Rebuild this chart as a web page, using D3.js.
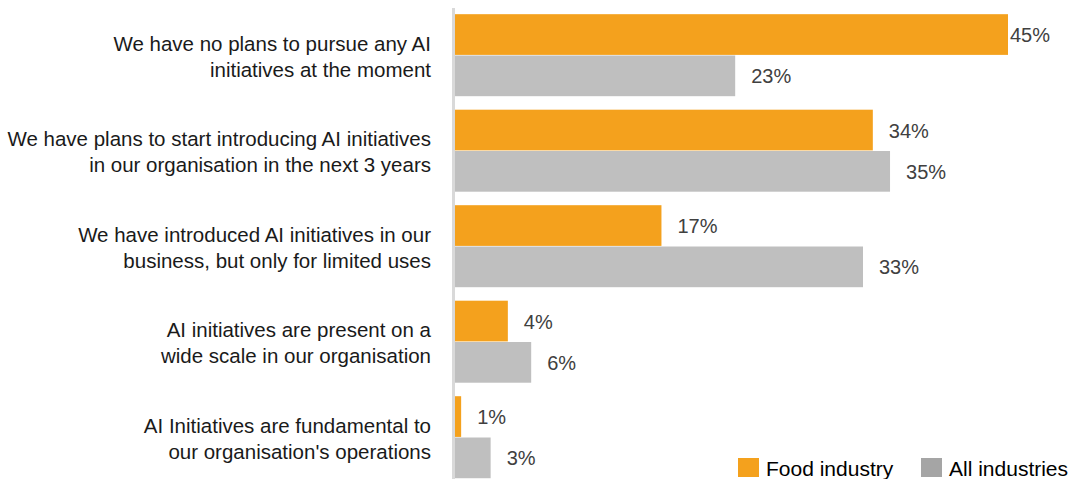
<!DOCTYPE html>
<html><head><meta charset="utf-8">
<script src="https://cdn.jsdelivr.net/npm/d3@7"></script>
<style>body{margin:0;background:#fff}svg{display:block;font-family:"Liberation Sans",Arial,sans-serif}</style>
</head><body>
<svg id="c" width="1086" height="479"></svg>
<script>
const categories = [
  ["We have no plans to pursue any AI", "initiatives at the moment"],
  ["We have plans to start introducing AI initiatives", "in our organisation in the next 3 years"],
  ["We have introduced AI initiatives in our", "business, but only for limited uses"],
  ["AI initiatives are present on a", "wide scale in our organisation"],
  ["AI Initiatives are fundamental to", "our organisation's operations"]
];
const seriesNames = ["Food industry", "All industries"];
const food = [45, 34, 16.8, 4.3, 0.5];
const all = [22.8, 35.4, 33.2, 6.2, 2.9];
const colors = ["#F4A11D", "#BFBFBF"];
const legendColors = ["#F4A11D", "#A5A5A5"];

const svg = d3.select("#c");
const x = d3.scaleLinear().domain([0, 45]).range([455, 1008]);
const y = d3.scaleBand().domain(d3.range(categories.length)).range([7.5, 485.5]).paddingInner(0.135).paddingOuter(0.07);
const sub = d3.scaleBand().domain([0, 1]).range([0, y.bandwidth()]);

// axis line
svg.append("line").attr("x1", 453.5).attr("x2", 453.5).attr("y1", 8).attr("y2", 479)
  .attr("stroke", "#D9D9D9").attr("stroke-width", 3);

const data = [];
categories.forEach((c, i) => {
  data.push({i, s: 0, v: food[i]});
  data.push({i, s: 1, v: all[i]});
});

svg.selectAll("rect.bar").data(data).join("rect").attr("class", "bar")
  .attr("x", x(0)).attr("y", d => y(d.i) + sub(d.s))
  .attr("width", d => x(d.v) - x(0)).attr("height", sub.bandwidth() - 0.6)
  .attr("fill", d => colors[d.s]);

svg.selectAll("text.val").data(data).join("text").attr("class", "val")
  .attr("x", d => Math.min(x(d.v) + 16, 1010)).attr("y", d => y(d.i) + sub(d.s) + sub.bandwidth() / 2)
  .attr("dy", "0.36em").attr("font-size", 20).attr("fill", "#404040")
  .text(d => Math.round(d.v) + "%");

const cat = svg.selectAll("text.cat").data(categories).join("text").attr("class", "cat")
  .attr("text-anchor", "end").attr("font-size", 20.5).attr("fill", "#1a1a1a");
cat.each(function(d, i) {
  const cy = y(i) + y.bandwidth() / 2 + 1;
  d3.select(this).selectAll("tspan").data(d).join("tspan")
    .attr("x", 431).attr("y", (t, j) => cy + (j - 0.5) * 26).attr("dy", "0.36em").text(t => t);
});

// legend
const lg = svg.append("g");
const lx = [738, 921];
seriesNames.forEach((n, k) => {
  lg.append("rect").attr("x", lx[k]).attr("y", 458).attr("width", 21).attr("height", 19).attr("fill", legendColors[k]);
  lg.append("text").attr("x", lx[k] + 28).attr("y", 468).attr("dy", "0.36em")
    .attr("font-size", 21).attr("fill", "#000").text(n);
});
</script>
</body></html>
